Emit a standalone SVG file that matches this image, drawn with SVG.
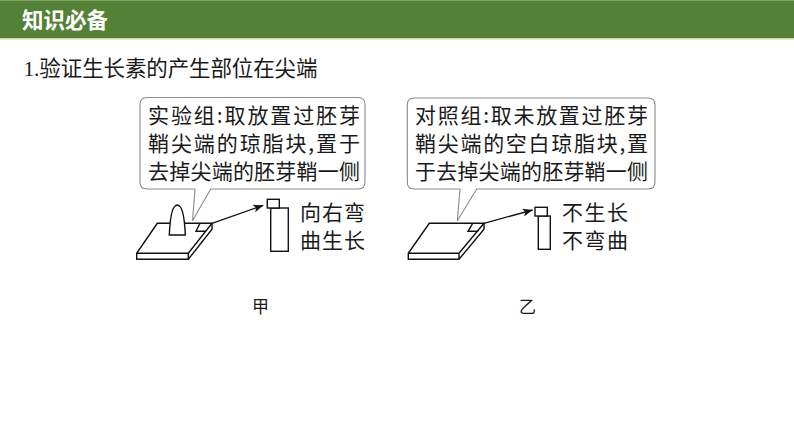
<svg xmlns="http://www.w3.org/2000/svg" width="794" height="447" viewBox="0 0 794 447">
<style>
text{font-family:"Noto Sans CJK SC","Liberation Serif",serif;fill:#1a1a1a}
.t{font-size:21px}
.l{fill:#fff;stroke:#111;stroke-width:1.4;stroke-linejoin:miter}
.n{fill:none;stroke:#111;stroke-width:1.4}
.c{fill:#fff;stroke:#8a8a8a;stroke-width:1.1}
.a{fill:none;stroke:#111;stroke-width:1.3;marker-end:url(#h)}
</style>
<defs><marker id="h" markerUnits="userSpaceOnUse" markerWidth="11" markerHeight="8" refX="10" refY="4" orient="auto"><path d="M0 0L10 4L0 8L2.5 4Z" fill="#111"/></marker></defs>
<rect width="794" height="447" fill="#fff"/>
<g id="header">
<rect width="794" height="38" fill="#538135"/>
<rect width="794" height="1" fill="#7fa05f"/>
<rect y="38" width="794" height="1.500" fill="#c5d9b0"/>
<text x="22" y="28" font-size="21.500" font-weight="700" textLength="86" style="fill:#fff">知识必备</text>
</g>
<text id="heading" x="23.500" y="76" font-size="21.500" textLength="294"><tspan font-family="Liberation Serif">1.</tspan>验证生长素的产生部位在尖端</text>
<g id="callout-a">
<path class="c" d="M147 97.500H358Q365 97.500 365 104.500V182Q365 189 358 189H210.700L192.500 220.700L195 189H147Q140 189 140 182V104.500Q140 97.500 147 97.500Z"/>
<text class="t" x="148" y="123" textLength="212">实验组:取放置过胚芽</text>
<text class="t" x="148" y="151" textLength="212">鞘尖端的琼脂块,置于</text>
<text class="t" x="148" y="179" textLength="212">去掉尖端的胚芽鞘一侧</text>
</g>
<g id="block-a">
<path class="l" d="M157.300 223.300H212V229.300L188.300 259.300H136.700V253.300Z"/>
<path class="n" d="M136.700 253.300H188.300L212 223.300M188.300 253.300V259.300"/>
<path class="n" d="M200 223.300L196 231.300H206"/>
<path class="l" d="M169.300 235C170 218 172 205 177.300 205C182.600 205 184.600 218 185.300 235Z"/>
</g>
<g id="tube-a">
<rect class="l" x="270.700" y="208" width="17.600" height="43.300"/>
<rect class="l" x="267.300" y="199.300" width="12" height="8.700"/>
</g>
<g id="label-a">
<text class="t" x="300" y="220" textLength="65">向右弯</text>
<text class="t" x="300" y="248" textLength="65">曲生长</text>
</g>
<text id="caption-a" x="252" y="313" font-size="17" textLength="17">甲</text>
<g id="callout-b">
<path class="c" d="M414 98H648Q655 98 655 105V182Q655 189 648 189H476.700L457.300 220.700L460 189H414Q407.300 189 407.300 182V105Q407.300 98 414 98Z"/>
<text class="t" x="415" y="123" textLength="233">对照组:取未放置过胚芽</text>
<text class="t" x="415" y="151" textLength="233">鞘尖端的空白琼脂块,置</text>
<text class="t" x="415" y="179" textLength="233">于去掉尖端的胚芽鞘一侧</text>
</g>
<g id="block-b">
<path class="l" d="M429.300 223.300H484V229.300L459 259.300H408.300V253.300Z"/>
<path class="n" d="M408.300 253.300H459L484 223.300M459 253.300V259.300"/>
<path class="n" d="M472.700 223.300L468 231.300H478.300"/>
</g>
<g id="tube-b">
<rect class="l" x="538.300" y="216" width="12" height="33.300"/>
<rect class="l" x="535" y="207.300" width="12.300" height="8.700"/>
</g>
<g id="label-b">
<text class="t" x="562" y="220" textLength="66">不生长</text>
<text class="t" x="562" y="248" textLength="66">不弯曲</text>
</g>
<text id="caption-b" x="519" y="313" font-size="17" textLength="17">乙</text>
<g id="connectors">
<path class="a" d="M212 223.300L263.300 205.300"/>
<path class="a" d="M484 223.300L532.700 210"/>
</g>
</svg>
